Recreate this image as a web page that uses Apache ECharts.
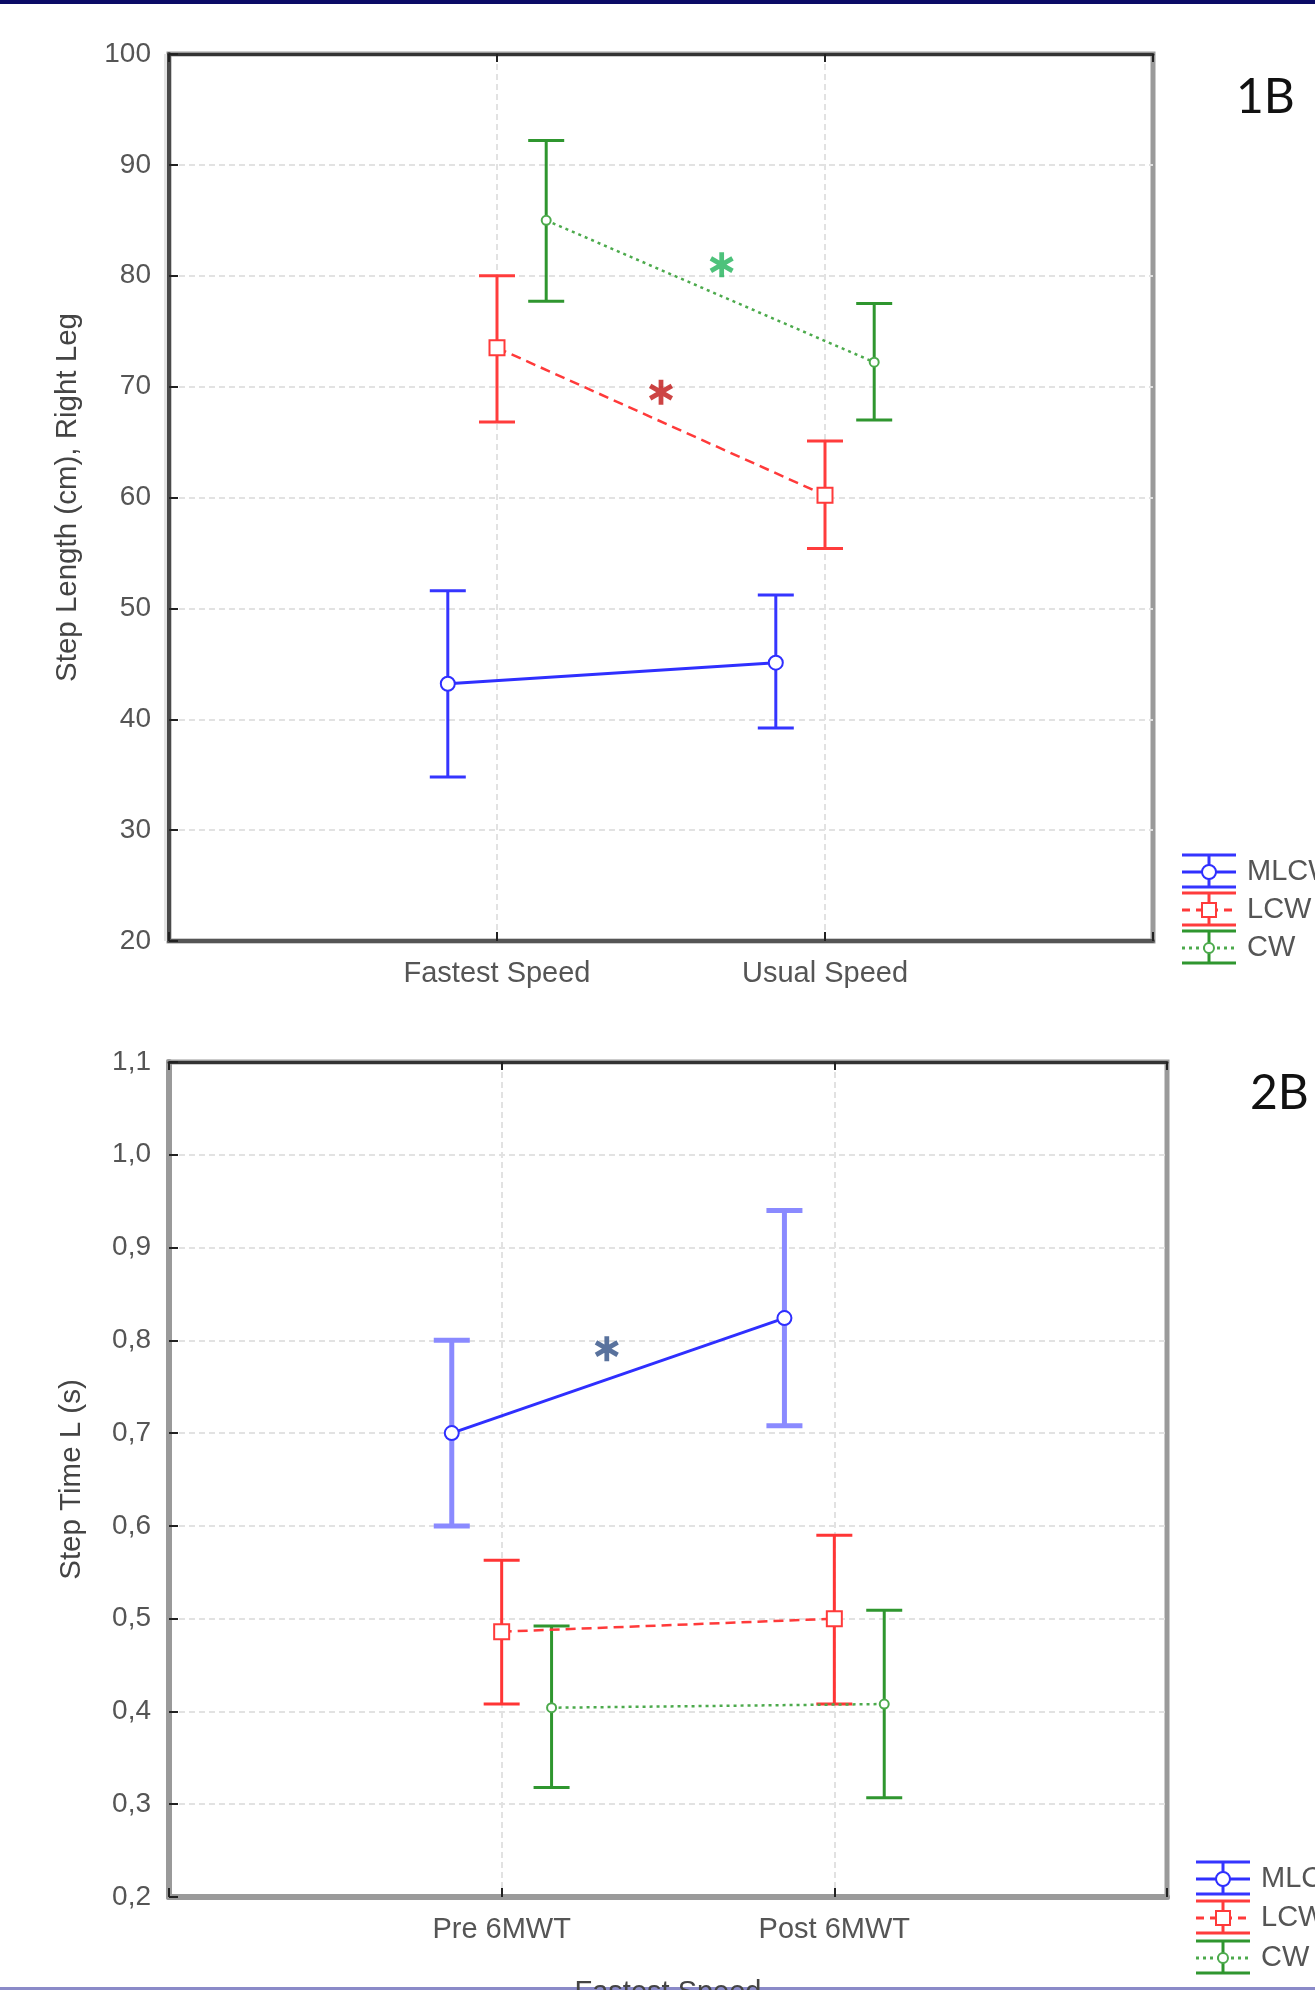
<!DOCTYPE html>
<html>
<head>
<meta charset="utf-8">
<script src="https://cdn.jsdelivr.net/npm/echarts@6/dist/echarts.min.js"></script>
<style>
  html, body { margin: 0; padding: 0; background: #fff; }
  #container { width: 1315px; height: 1990px; }
</style>
</head>
<body>
<div id="container"></div>
<script>
// groups (order: MLCW, LCW, CW)
var groups = ["MLCW", "LCW", "CW"];

// panel 1B - step length, right leg (cm)
var catsTop = ["Fastest Speed", "Usual Speed"];
var topMean = [[43.2, 45.1], [73.5, 60.2], [85.0, 72.2]];
var topLow = [[34.8, 39.2], [66.8, 55.4], [77.7, 67.0]];
var topHigh = [[51.6, 51.2], [80.0, 65.1], [92.2, 77.5]];
var topStars = [[1.685, 81.0], [1.5, 69.5]];
var topTicks = [20, 100, 10];

// panel 2B - step time L (s)
var catsBot = ["Pre 6MWT", "Post 6MWT"];
var botMean = [[0.70, 0.824], [0.486, 0.50], [0.404, 0.408]];
var botLow = [[0.60, 0.708], [0.408, 0.408], [0.318, 0.307]];
var botHigh = [[0.80, 0.94], [0.563, 0.59], [0.492, 0.509]];
var botStars = [[1.316, 0.791]];
var botTicks = [0.2, 1.1, 0.1];

// styles
var FONT = "Liberation Sans";
var dodge = [-0.15, 0, 0.15];
var lineColor = ["#2f2fff", "#ff3a3a", "#4caa4c"];
var lineType = ["solid", [10, 6], [3, 4]];
var symbols = ["circle", "rect", "circle"];
var symSize = [14, 15, 9];
var errColorTop = ["#3535ff", "#ff3c3c", "#2f962f"];
var errColorBot = ["#8a8aff", "#ff3535", "#2f962f"];
var errWidthTop = [3, 3, 3];
var errWidthBot = [5, 3, 3];
var starColorTop = ["#22b35a", "#c01515"];
var starColorBot = ["#2f4f85"];

// asterisk symbol path (three crossing bars)
function asteriskPath() {
  var L = 10, w = 1.9, s = "";
  [90, 30, -30].forEach(function (a) {
    var r = a * Math.PI / 180, dx = Math.cos(r), dy = Math.sin(r), nx = -dy, ny = dx;
    var p = [[L * dx + w * nx, L * dy + w * ny], [L * dx - w * nx, L * dy - w * ny],
             [-L * dx - w * nx, -L * dy - w * ny], [-L * dx + w * nx, -L * dy + w * ny]];
    s += "M" + p.map(function (q) { return q[0].toFixed(2) + " " + q[1].toFixed(2); }).join(" L") + " Z ";
  });
  return "path://" + s;
}
var STAR = asteriskPath();

function errRenderer(width) {
  return function (params, api) {
    var x = api.value(0);
    var pLo = api.coord([x, api.value(1)]);
    var pHi = api.coord([x, api.value(2)]);
    var cap = 18;
    var st = { stroke: api.visual("color"), lineWidth: width };
    return {
      type: "group",
      children: [
        { type: "line", shape: { x1: pLo[0], y1: pLo[1], x2: pHi[0], y2: pHi[1] }, style: st },
        { type: "line", shape: { x1: pHi[0] - cap, y1: pHi[1], x2: pHi[0] + cap, y2: pHi[1] }, style: st },
        { type: "line", shape: { x1: pLo[0] - cap, y1: pLo[1], x2: pLo[0] + cap, y2: pLo[1] }, style: st }
      ]
    };
  };
}

function buildSeries(k, mean, low, high, stars, errColor, errWidth, starColor) {
  var out = [];
  groups.forEach(function (g, j) {
    out.push({
      type: "custom", name: g + " err", xAxisIndex: 2 * k, yAxisIndex: k,
      renderItem: errRenderer(errWidth[j]), itemStyle: { color: errColor[j] }, z: 3,
      data: mean[j].map(function (m, i) { return [i + 1 + dodge[j], low[j][i], high[j][i]]; })
    });
    out.push({
      type: "line", name: g, xAxisIndex: 2 * k, yAxisIndex: k, z: 5,
      symbol: symbols[j], symbolSize: symSize[j], showSymbol: true,
      lineStyle: { color: lineColor[j], width: j === 0 ? 3 : 2.5, type: lineType[j] },
      itemStyle: { color: "#fff", borderColor: lineColor[j], borderWidth: 2 },
      data: mean[j].map(function (m, i) { return [i + 1 + dodge[j], m]; })
    });
  });
  out.push({
    type: "scatter", xAxisIndex: 2 * k, yAxisIndex: k, z: 6,
    symbol: STAR, symbolSize: 25, symbolKeepAspect: true,
    itemStyle: { color: function (p) { return starColor[p.dataIndex]; } },
    data: stars
  });
  return out;
}

function xAxes(k, cats, lineCol, lineW, name) {
  return [{
    type: "value", gridIndex: k, min: 0, max: 3, interval: 1,
    name: name || "", nameLocation: "middle", nameGap: 81,
    nameTextStyle: { fontFamily: FONT, fontSize: 29, color: "#444" },
    axisLine: { show: true, lineStyle: { color: lineCol, width: lineW } },
    axisTick: { show: true, inside: true, length: 9, lineStyle: { color: "#222", width: 2 } },
    axisLabel: {
      margin: 18, fontFamily: FONT, fontSize: 29, color: "#555",
      formatter: function (v) { return (v === 1 || v === 2) ? cats[v - 1] : ""; }
    },
    splitLine: { show: true, showMinLine: false, showMaxLine: false,
      lineStyle: { color: "#e2e2e2", width: 2, type: [6, 4] } }
  }, {
    type: "value", gridIndex: k, position: "top", min: 0, max: 3, interval: 1,
    axisLine: { show: true, lineStyle: { color: "#333", width: 3 } },
    axisTick: { show: true, inside: true, length: 8, lineStyle: { color: "#222", width: 2 } },
    axisLabel: { show: false }, splitLine: { show: false }
  }];
}

function yAxis(k, ticks, lineCol, lineW, name, gap, comma) {
  return {
    type: "value", gridIndex: k, min: ticks[0], max: ticks[1], interval: ticks[2],
    name: name, nameLocation: "middle", nameGap: gap, nameRotate: 90,
    nameTextStyle: { fontFamily: FONT, fontSize: 29.5, color: "#444" },
    axisLine: { show: true, lineStyle: { color: lineCol, width: lineW } },
    axisTick: { show: true, inside: true, length: 9, lineStyle: { color: "#222", width: 2 } },
    axisLabel: {
      margin: 18, fontFamily: FONT, fontSize: 28, color: "#555",
      formatter: function (v) { return comma ? v.toFixed(1).replace(".", ",") : String(v); }
    },
    splitLine: { show: true, showMinLine: false, showMaxLine: false,
      lineStyle: { color: "#e2e2e2", width: 2, type: [6, 4] } }
  };
}

// legend glyphs drawn as graphic elements
function legendGraphic(x0, centers) {
  var els = [];
  groups.forEach(function (g, j) {
    var cy = centers[j], xc = x0 + 27;
    var st = { stroke: errColorTop[j], lineWidth: 3 };
    els.push({ type: "line", shape: { x1: x0, y1: cy - 17, x2: x0 + 54, y2: cy - 17 }, style: st });
    els.push({ type: "line", shape: { x1: x0, y1: cy + 15, x2: x0 + 54, y2: cy + 15 }, style: st });
    els.push({ type: "line", shape: { x1: xc, y1: cy - 17, x2: xc, y2: cy + 15 }, style: st });
    els.push({ type: "line", shape: { x1: x0, y1: cy, x2: x0 + 54, y2: cy },
      style: { stroke: lineColor[j], lineWidth: 3, lineDash: j === 0 ? null : (j === 1 ? [8, 6] : [3, 4]) } });
    if (j === 1) {
      els.push({ type: "rect", shape: { x: xc - 7, y: cy - 7, width: 14, height: 14 },
        style: { fill: "#fff", stroke: lineColor[j], lineWidth: 2 } });
    } else {
      els.push({ type: "circle", shape: { cx: xc, cy: cy, r: j === 0 ? 7 : 5 },
        style: { fill: "#fff", stroke: lineColor[j], lineWidth: 2 } });
    }
    els.push({ type: "text", x: x0 + 65, y: cy,
      style: { text: g, fontFamily: FONT, fontSize: 29, fill: "#555", verticalAlign: "middle" } });
  });
  return els;
}

var graphics = [
  { type: "rect", shape: { x: 0, y: 0, width: 1315, height: 4 }, style: { fill: "#0b0b66" } },
  { type: "rect", shape: { x: 0, y: 1987, width: 1315, height: 3 }, style: { fill: "#8a8ac8" } },
  { type: "rect", shape: { x: 164, y: 54, width: 3, height: 887 }, style: { fill: "#e4e4e4" } },
  { type: "text", x: 1236, y: 98, style: { text: "1B", fontFamily: "Lato", fontSize: 48, fill: "#111", verticalAlign: "middle" } },
  { type: "text", x: 1250, y: 1094, style: { text: "2B", fontFamily: "Lato", fontSize: 48, fill: "#111", verticalAlign: "middle" } }
].concat(legendGraphic(1182, [872, 910, 948])).concat(legendGraphic(1196, [1879, 1918, 1958]));

var option = {
  backgroundColor: "#fff",
  animation: false,
  grid: [
    { left: 169, top: 54, width: 984, height: 887, outerBoundsMode: "none",
      show: true, borderColor: "#9a9a9a", borderWidth: 5 },
    { left: 169, top: 1062, width: 998, height: 835, outerBoundsMode: "none",
      show: true, borderColor: "#9a9a9a", borderWidth: 5 }
  ],
  xAxis: xAxes(0, catsTop, "#555", 4).concat(xAxes(1, catsBot, "#9a9a9a", 6, "Fastest Speed")),
  yAxis: [
    yAxis(0, topTicks, "#4a4a4a", 4, "Step Length (cm), Right Leg", 86, false),
    yAxis(1, botTicks, "#9a9a9a", 6, "Step Time L (s)", 82, true)
  ],
  series: buildSeries(0, topMean, topLow, topHigh, topStars, errColorTop, errWidthTop, starColorTop)
    .concat(buildSeries(1, botMean, botLow, botHigh, botStars, errColorBot, errWidthBot, starColorBot)),
  graphic: graphics
};

var myChart = echarts.init(document.getElementById("container"));
myChart.setOption(option);
</script>
</body>
</html>
